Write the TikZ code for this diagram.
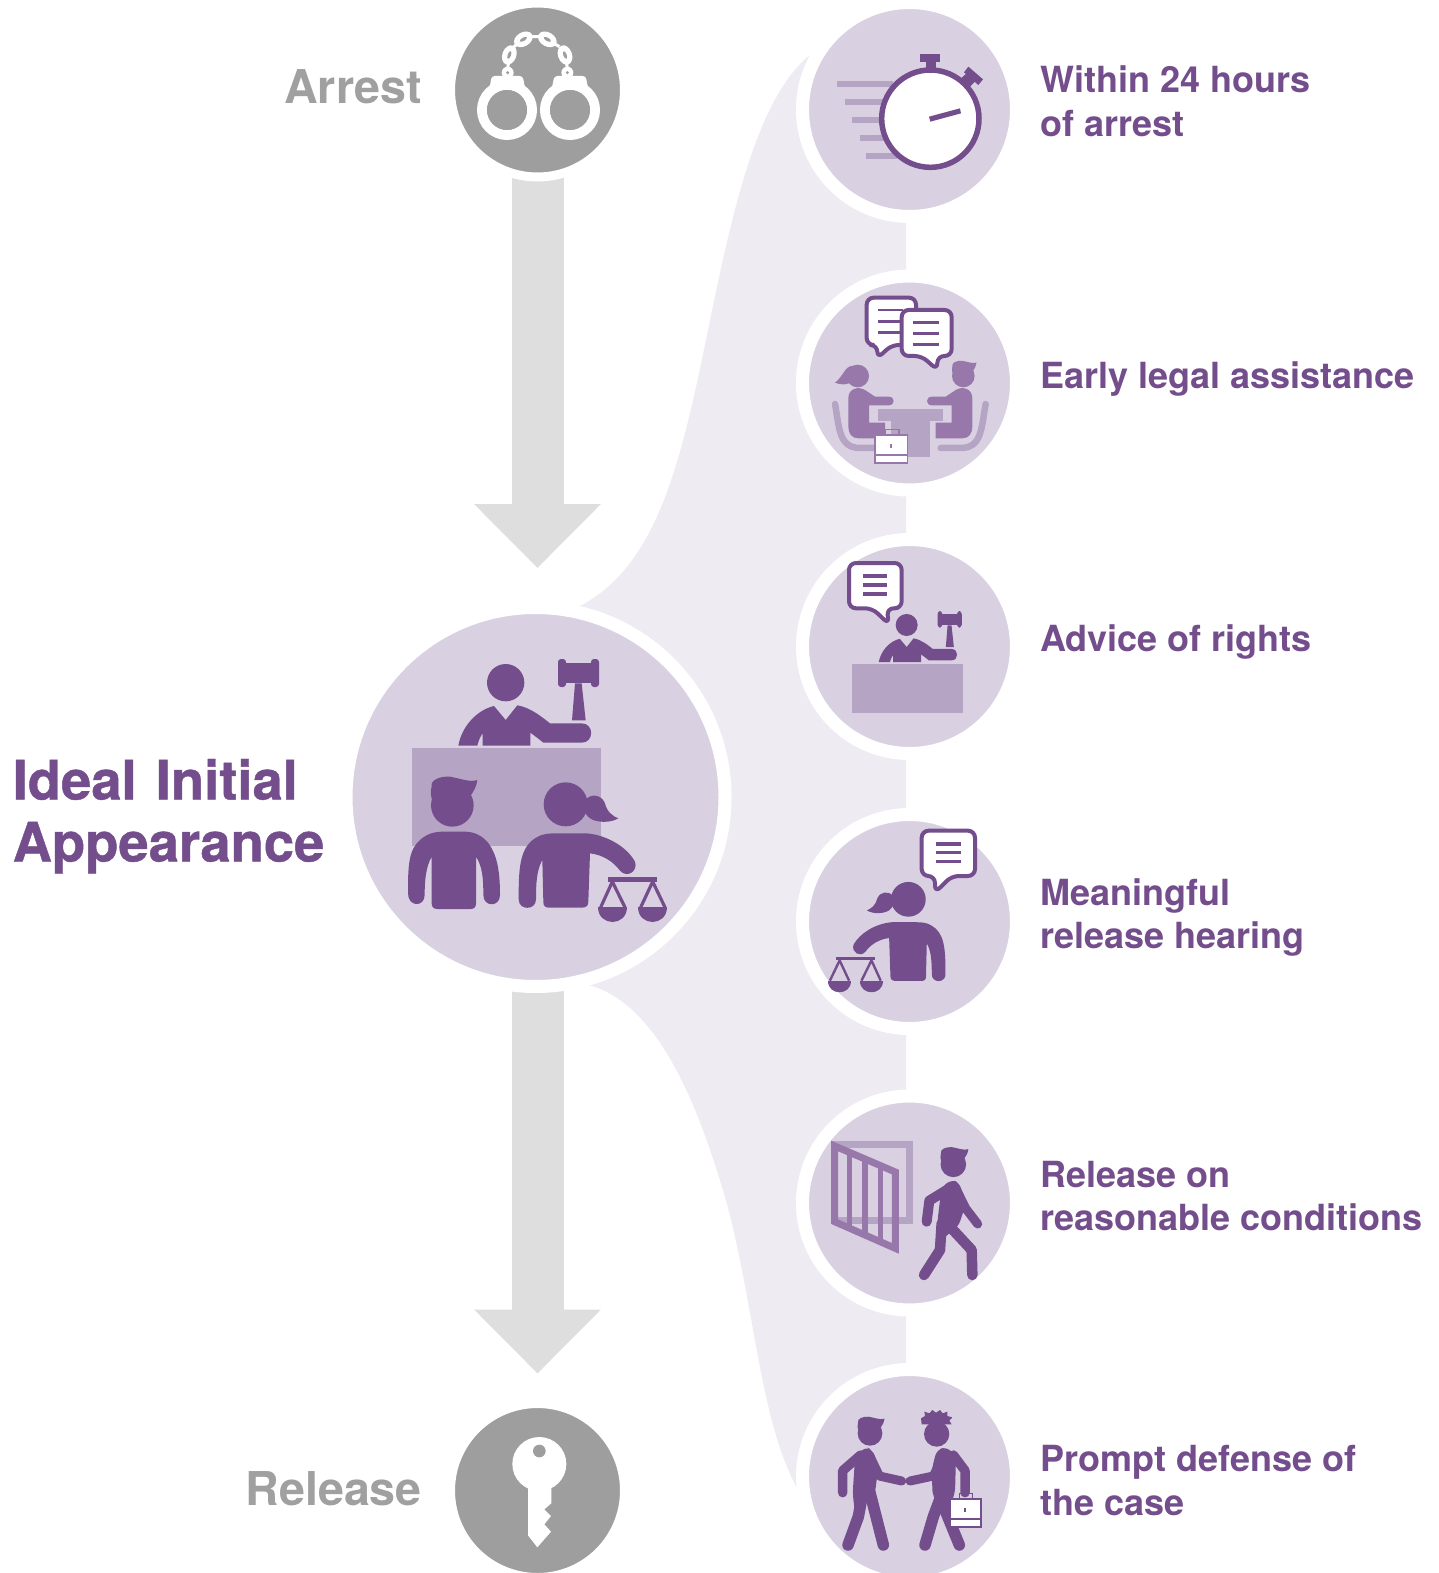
\documentclass[tikz,border=0pt]{standalone}
\usepackage{fontspec}
\usetikzlibrary{arrows.meta,backgrounds}
\setmainfont{TeX Gyre Heros}
\newfontfamily\heavyfont[BoldFeatures={FakeBold=0.8}]{TeX Gyre Heros}
\definecolor{pur}{HTML}{744E8C}
\definecolor{circ}{HTML}{D9D1E1}
\definecolor{deskc}{HTML}{B6A4C5}
\definecolor{midp}{HTML}{9878AA}
\definecolor{bandc}{HTML}{EEECF2}
\definecolor{grayc}{HTML}{9E9E9E}
\definecolor{arrowc}{HTML}{DEDEDE}
\definecolor{greyt}{HTML}{A0A0A0}
\tikzset{
  bigdisc/.style={circle,fill=circ,draw=white,line width=13pt,minimum size=379pt,inner sep=0pt},
  smalldisc/.style={circle,fill=circ,draw=white,line width=13pt,minimum size=214pt,inner sep=0pt},
  graydisc/.style={circle,fill=grayc,draw=white,line width=9pt,minimum size=174pt,inner sep=0pt},
  flowarrow/.style={draw=arrowc,line width=52pt,-{Triangle[length=64pt,width=123pt,fill=arrowc]}},
  sidelabel/.style={inner sep=0pt,text=pur,align=left,font=\fontsize{36}{43.5}\selectfont\bfseries,anchor=west},
  endlabel/.style={inner sep=0pt,text=greyt,font=\fontsize{46.6}{50}\selectfont\bfseries,anchor=base east},
  bub/.style={draw=pur,fill=white,line width=4pt,rounded corners=7pt,line join=round},
  bubline/.style={draw=pur,line width=2.8pt},
}
% man's head with hair; origin at head centre, head radius 64
\newcommand{\manhead}{%
  \fill (0,0) circle (64);
  \fill (-62,-56) .. controls (-67,-76) and (-37,-88) .. (-7,-86)
     .. controls (23,-81) and (53,-68) .. (75,-76)
     .. controls (73,-56) and (63,-41) .. (53,-26) -- (-57,-6)
     .. controls (-65,-26) and (-67,-41) .. (-62,-56) -- cycle;}
% judge, in the frame of the large icon
\newcommand{\judgefig}{%
  \fill (497,248) circle (56);
  \fill (355,437) .. controls (365,380) and (410,330) .. (462,318) -- (497,360) -- (532,316)
     .. controls (570,322) and (605,350) .. (630,370) -- (725,370)
     .. controls (763,370) and (763,428) .. (725,428) -- (610,428)
     .. controls (600,420) and (585,408) .. (571,398) -- (571,437) -- (428,437) -- (428,400)
     .. controls (420,410) and (415,425) .. (412,437) -- cycle;
  \fill[rounded corners=3pt] (654,177) rectangle (678,261);
  \fill[rounded corners=3pt] (753,177) rectangle (777,261);
  \fill (654,190) rectangle (777,250);
  \fill (705,250) -- (725,250) -- (737,361) -- (696,361) -- cycle;}
% woman with ponytail
\newcommand{\womanfig}{%
  \fill (677,613) circle (66);
  \fill (735,600) .. controls (755,578) and (785,585) .. (795,610)
     .. controls (800,635) and (820,650) .. (835,655)
     .. controls (810,670) and (770,668) .. (750,655)
     .. controls (730,640) and (728,620) .. (735,600) -- cycle;
  \fill (536,890) .. controls (536,800) and (540,740) .. (590,712)
     .. controls (610,700) and (630,700) .. (650,700) -- (740,700)
     .. controls (800,705) and (860,740) .. (885,785)
     .. controls (895,815) and (860,835) .. (840,812)
     .. controls (820,785) and (790,765) .. (750,760) -- (745,905)
     .. controls (745,918) and (738,923) .. (725,923) -- (628,923)
     .. controls (615,923) and (610,918) .. (610,905) -- (607,780)
     .. controls (590,810) and (588,850) .. (588,898)
     .. controls (588,932) and (536,932) .. (536,898) -- cycle;}
% balance scales; #1 = stroke width
\newcommand{\balancefig}[1]{%
  \fill (804,832) rectangle (952,845);
  \draw[line width=#1,line join=miter] (782,922) -- (817,845) -- (855,922);
  \draw[line width=#1,line join=miter] (902,922) -- (938,845) -- (975,922);
  \fill (773,922) -- (861,922) .. controls (861,980) and (773,980) .. (773,922) -- cycle;
  \fill (894,922) -- (982,922) .. controls (982,980) and (894,980) .. (894,922) -- cycle;}
% briefcase in a 100 x 90 box; #1 outline colour
\newcommand{\briefcasefig}[1]{%
  \draw[#1,line width=1.6pt] (32,2) -- (32,-15) -- (72,-15) -- (72,2);
  \fill[#1] (0,0) rectangle (100,90);
  \fill[white] (5,6) rectangle (95,58);
  \fill[white] (5,65) rectangle (95,84);
  \fill[#1] (47,28) rectangle (53,42);}
\begin{document}
\begin{tikzpicture}[x=1pt,y=-1pt]
\useasboundingbox (0,0) rectangle (1439,1573);
% ---------- discs
\node[graydisc]  (arrest)  at (537.5,90)    {};
\node[graydisc]  (release) at (537.5,1490.5){};
\node[bigdisc]   (ideal)   at (535.5,797)   {};
\node[smalldisc] (d1) at (909.5,109.5) {};
\node[smalldisc] (d2) at (909.5,383)   {};
\node[smalldisc] (d3) at (909.5,646.5) {};
\node[smalldisc] (d4) at (909.5,921.5) {};
\node[smalldisc] (d5) at (909.5,1203)  {};
\node[smalldisc] (d6) at (909.5,1476.5){};
\coordinate (tipa) at (537.5,568);
\coordinate (tipb) at (537.5,1373.5);
\coordinate (startb) at (537.5,797);
\begin{scope}[on background layer]
  \fill[white] (0,0) rectangle (1439,1573);
  \fill[bandc] (825,42) -- (810,55) .. controls (760,95) and (735,200) .. (713,306)
     .. controls (685,440) and (665,560) .. (582,605) -- (560,612)
     -- (570,980) -- (590,985.5) .. controls (660,1005) and (700,1110) .. (727,1204)
     .. controls (755,1310) and (760,1420) .. (797,1488) -- (805,1503)
     -- (906,1476) -- (906,109) -- cycle;
  \draw[flowarrow] (arrest.center) -- (tipa);
  \draw[flowarrow] (startb) -- (tipb);
\end{scope}
% ---------- handcuffs
\begin{scope}[shift={(440,0)},scale=1/3]
  \draw[white,line width=10pt] (201,330) circle (75);
  \draw[white,line width=10pt] (390,330) circle (75);
  \fill[white,rounded corners=3pt] (155,228) -- (248,228) -- (256,268) -- (148,268) -- cycle;
  \fill[white,rounded corners=3pt] (343,228) -- (437,228) -- (445,268) -- (335,268) -- cycle;
  \fill[grayc] (201,330) circle (60);
  \fill[grayc] (390,330) circle (60);
  \fill[white] (203,218) circle (18);
  \fill[white] (382,218) circle (18);
  \fill[grayc] (203,218) circle (5);
  \fill[grayc] (382,218) circle (5);
  \draw[white,line width=3pt] (203,205) -- (206,185) (222,140) -- (234,130) (270,110) -- (302,110) (342,130) -- (358,140) (379,185) -- (382,205);
  \foreach \px/\py/\ang in {208/165/70, 250/118/30, 322/118/-30, 375/165/-70}{
    \fill[white,rotate around={\ang:(\px,\py)}] (\px,\py) ellipse (30 and 21);
    \fill[grayc,rotate around={\ang:(\px,\py)}] (\px,\py) ellipse (12 and 5);
  }
\end{scope}
% ---------- key
\begin{scope}[shift={(440,1390)},scale=1/3]
  \fill[white] (298,222) circle (81);
  \fill[white] (264,280) -- (334,280) -- (334,340) -- (313,358) -- (333,378) -- (313,403) -- (333,425) -- (292,472) -- (264,436) -- cycle;
  \fill[grayc] (298,183) circle (19);
\end{scope}
% ---------- large icon
\begin{scope}[shift={(340,600)},scale=1/3]
  \fill[deskc] (216,445) rectangle (782,738);
  \begin{scope}[pur]
    \judgefig
    \womanfig
    \balancefig{3.2pt}
    \begin{scope}[shift={(337,616)}] \manhead \end{scope}
    \fill (204,880) .. controls (204,800) and (205,750) .. (240,720)
      .. controls (262,700) and (285,695) .. (310,695) -- (375,695)
      .. controls (410,695) and (440,715) .. (455,745)
      .. controls (475,780) and (480,830) .. (480,885)
      .. controls (480,922) and (430,922) .. (430,885)
      .. controls (430,840) and (428,800) .. (408,770) -- (408,910)
      .. controls (408,922) and (402,927) .. (392,927) -- (292,927)
      .. controls (282,927) and (275,922) .. (275,910) -- (275,770)
      .. controls (258,800) and (254,840) .. (254,885)
      .. controls (254,922) and (204,922) .. (204,880) -- cycle;
  \end{scope}
\end{scope}
% ---------- stopwatch
\begin{scope}[shift={(790,0)},scale=1/3]
  \fill[deskc] (140,244) rectangle (310,262);
  \fill[deskc] (164,297) rectangle (300,315);
  \fill[deskc] (186,351) rectangle (300,369);
  \fill[deskc] (209,405) rectangle (300,423);
  \fill[deskc] (229,458) rectangle (320,476);
  \fill[pur] (390,162) rectangle (450,187);
  \fill[pur] (408,187) rectangle (438,215);
  \fill[pur] (512,236) -- (532,218) -- (555,245) -- (535,265) -- cycle;
  \fill[pur] (535,200) -- (579,238) -- (565,255) -- (522,217) -- cycle;
  \draw[pur,fill=white,line width=5.5pt] (421,356) circle (146);
  \fill[pur] (417,350) -- (510,325) -- (513,340) -- (421,365) -- cycle;
\end{scope}
% ---------- legal assistance
\begin{scope}[shift={(790,0)},scale=1/3]
  \draw[deskc,line width=6.5pt,line cap=round] (135,1212) .. controls (148,1280) and (145,1344) .. (210,1344) -- (265,1344);
  \draw[deskc,line width=6.5pt,line cap=round] (587,1212) .. controls (574,1280) and (577,1344) .. (512,1344) -- (452,1344);
  \begin{scope}[midp]
    \fill (203,1128) circle (34);
    \fill (190,1098) .. controls (165,1095) and (160,1130) .. (135,1148) .. controls (160,1158) and (180,1152) .. (195,1140) -- cycle;
    \fill (175,1195) .. controls (175,1165) and (205,1158) .. (225,1170) -- (255,1190) -- (296,1190)
       .. controls (316,1190) and (316,1216) .. (296,1216) -- (237,1216) -- (237,1268) -- (285,1268) -- (285,1315) -- (205,1315)
       .. controls (185,1315) and (175,1300) .. (175,1280) -- cycle;
    \begin{scope}[shift={(520,1128)},scale=.53] \manhead \end{scope}
    \fill (547,1195) .. controls (547,1165) and (517,1158) .. (497,1170) -- (467,1190) -- (426,1190)
       .. controls (406,1190) and (406,1216) .. (426,1216) -- (485,1216) -- (485,1268) -- (437,1268) -- (437,1315) -- (517,1315)
       .. controls (537,1315) and (547,1300) .. (547,1280) -- cycle;
  \end{scope}
  \fill[deskc] (264,1227) rectangle (459,1262);
  \fill[deskc] (303,1262) rectangle (420,1370);
  \begin{scope}[shift={(253,1303)},xscale=1.02,yscale=1]
    \briefcasefig{midp}
  \end{scope}
  \draw[bub] (230,893) -- (378,893) -- (378,1035) -- (305,1035) -- (262,1075) -- (262,1035) -- (230,1035) -- cycle;
  \draw[bubline] (265,930) -- (340,930) (265,965) -- (340,965) (265,997) -- (340,997);
  \draw[bub] (335,930) -- (485,930) -- (485,1068) -- (442,1068) -- (442,1110) -- (395,1068) -- (335,1068) -- cycle;
  \draw[bubline] (368,968) -- (448,968) (368,1000) -- (448,1000) (368,1033) -- (448,1033);
\end{scope}
% ---------- advice of rights
\begin{scope}[shift={(790,530)},scale=1/3]
  \fill[deskc] (186,402) rectangle (519,550);
\end{scope}
\begin{scope}[shift={(808.9,576.2)},scale=.1967,pur]
  \judgefig
\end{scope}
\begin{scope}[shift={(790,530)},scale=1/3]
  \draw[bub] (177,99) -- (335,99) -- (335,235) -- (290,235) -- (297,283) -- (247,235) -- (177,235) -- cycle;
  \draw[bubline,line width=3.6pt] (218,138) -- (292,138) (218,165) -- (292,165) (218,192) -- (292,192);
\end{scope}
% ---------- release hearing
\begin{scope}[shift={(1086.6,737.9)},xscale=-.2633,yscale=.2633,pur]
  \womanfig
  \balancefig{2.4pt}
\end{scope}
\begin{scope}[shift={(790,530)},scale=1/3]
  \draw[bub] (395,902) -- (555,902) -- (555,1038) -- (485,1038) -- (435,1088) -- (435,1038) -- (395,1038) -- cycle;
  \draw[bubline,line width=3.6pt] (437,942) -- (513,942) (437,968) -- (513,968) (437,995) -- (513,995);
\end{scope}
% ---------- release on conditions
\begin{scope}[shift={(790,1080)},scale=1/3]
  \draw[deskc,line width=7pt] (134,192) rectangle (358,420);
  \draw[midp,line width=7pt,line join=miter] (134,198) -- (316,276) -- (316,505) -- (134,425) -- cycle;
  \foreach \bx in {178,225,271}{
    \draw[midp,line width=5.6pt] (\bx,{205+(\bx-134)*.43}) -- (\bx,{430+(\bx-134)*.43});
  }
  \begin{scope}[pur]
    \begin{scope}[shift={(490,253)},scale=.6] \manhead \end{scope}
    \draw[line width=10pt,line cap=round,line join=round] (478,325) -- (418,362) -- (410,425);
    \draw[line width=9pt,line cap=round,line join=round] (495,320) -- (527,385) -- (563,432);
    \fill[rounded corners=6pt] (455,322) -- (485,298) -- (510,310) -- (525,380) -- (505,440) -- (470,465) -- (435,510) -- (445,400) -- cycle;
    \draw[line width=10.5pt,line cap=round,line join=round] (455,430) -- (450,510) -- (402,585);
    \draw[line width=10.5pt,line cap=round,line join=round] (480,440) -- (545,510) -- (547,585);
  \end{scope}
\end{scope}
% ---------- prompt defence
\begin{scope}[shift={(790,1080)},scale=1/3]
  \begin{scope}[pur]
    \begin{scope}[shift={(240,1060)},scale=.58] \manhead \end{scope}
    \draw[line width=9.5pt,line cap=round,line join=round] (212,1125) -- (158,1172) -- (158,1238);
    \draw[line width=9pt,line cap=round,line join=round] (238,1125) -- (268,1188) -- (335,1203);
    \fill[rounded corners=6pt] (195,1135) -- (225,1100) -- (248,1110) -- (265,1160) -- (255,1240) -- (195,1300) -- (188,1240) -- cycle;
    \draw[line width=11.5pt,line cap=round,line join=round] (220,1230) -- (205,1310) -- (174,1395);
    \draw[line width=11.5pt,line cap=round,line join=round] (238,1230) -- (280,1395);
    % partner
    \fill (440,1062) circle (38);
    \fill (393,1015) -- (405,1008) -- (403,995) -- (418,1000) -- (427,990) -- (438,998) -- (450,990) -- (458,1000) -- (472,995) -- (472,1008) -- (487,1012) -- (478,1022) -- (485,1033) -- (395,1033) -- cycle;
    \draw[line width=9.5pt,line cap=round,line join=round] (490,1125) -- (525,1172) -- (525,1238);
    \draw[line width=9pt,line cap=round,line join=round] (462,1125) -- (430,1188) -- (360,1203);
    \fill[rounded corners=6pt] (440,1110) -- (470,1100) -- (498,1130) -- (495,1240) -- (470,1300) -- (428,1250) -- (425,1170) -- cycle;
    \draw[line width=11.5pt,line cap=round,line join=round] (460,1230) -- (430,1310) -- (405,1395);
    \draw[line width=11.5pt,line cap=round,line join=round] (465,1290) -- (508,1395);
  \end{scope}
  \begin{scope}[shift={(477,1255)},xscale=.98,yscale=1]
    \briefcasefig{pur}
  \end{scope}
\end{scope}
% ---------- labels
\node[endlabel] (larrest)  at (422,104)  {Arrest};
\node[endlabel] (lrelease) at (422,1505) {Release};
\node[inner sep=0pt,text=pur,anchor=base west] (lideal) at (12.5,799.5) {\heavyfont\bfseries\fontsize{54.4}{62}\selectfont Ideal\hspace{4pt} Initial};
\node[inner sep=0pt,text=pur,anchor=base west] (lappear) at (12.5,861.5) {\heavyfont\bfseries\fontsize{54.4}{62}\selectfont Appearance};
\node[sidelabel] (t1) at (1040,101.5)  {Within 24 hours\\of arrest};
\node[sidelabel] (t2) at (1040,379)  {Early legal assistance};
\node[sidelabel] (t3) at (1040,642)  {Advice of rights};
\node[sidelabel] (t4) at (1040,917.5)  {Meaningful\\release hearing};
\node[sidelabel] (t5) at (1040,1196) {Release on\\reasonable conditions};
\node[sidelabel] (t6) at (1040,1480.5) {Prompt defense of\\the case};
\end{tikzpicture}
\end{document}
